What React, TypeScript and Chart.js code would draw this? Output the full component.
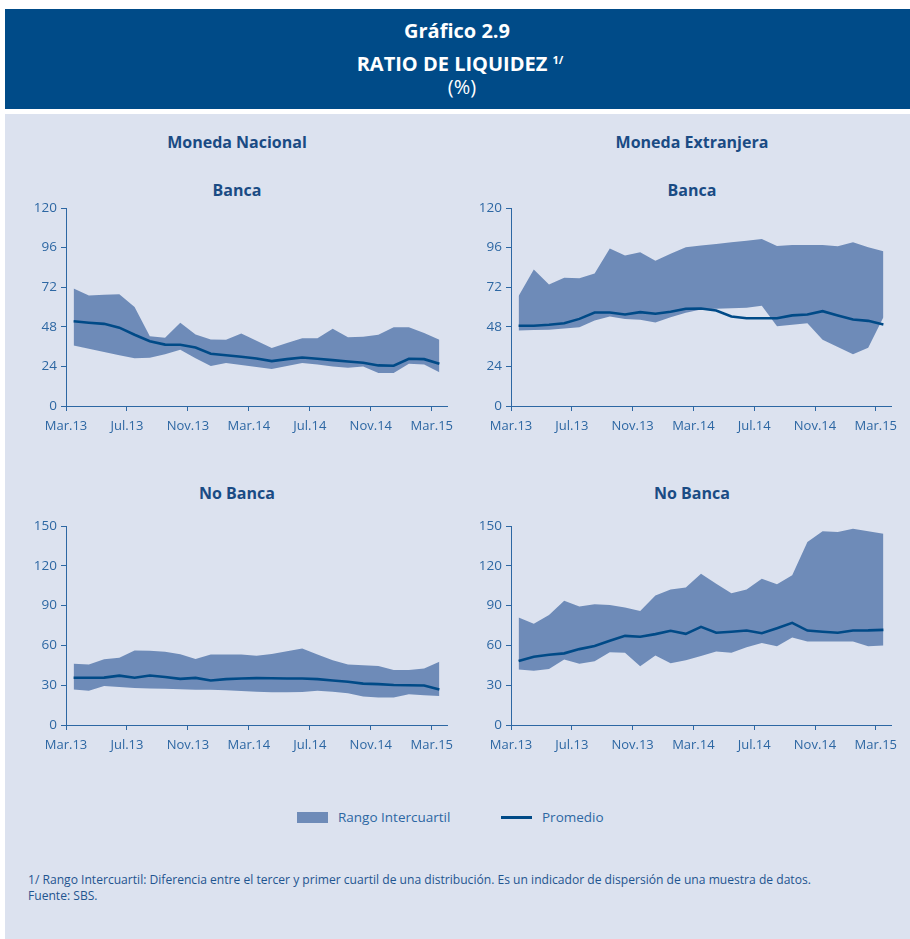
import React, { useEffect, useRef } from "react";
import { Chart, registerables } from "chart.js";
Chart.register(...registerables);

// ---------- DATA (monthly, Mar.13 .. Mar.15) ----------
const xTickLabels = ["Mar.13", "Jul.13", "Nov.13", "Mar.14", "Jul.14", "Nov.14", "Mar.15"];

// Moneda Nacional - Banca
const mnBancaQ3 = [71.2, 67, 67.4, 67.8, 60, 42.3, 41.3, 50.4, 43.4, 40.3, 40.1, 44, 39.5, 35.1, 38.2, 41.1, 41.1, 46.8, 41.7, 41.9, 43.2, 47.8, 47.8, 44.2, 40.1];
const mnBancaQ1 = [36.7, 34.7, 32.7, 30.8, 29, 29.2, 31.3, 34.1, 29, 24.2, 26, 24.8, 23.6, 22.4, 24.2, 26, 25.2, 24, 23.2, 24, 20, 20, 25.6, 25.2, 20.4];
const mnBancaAvg = [51.4, 50.5, 49.8, 47.5, 43.2, 39.3, 37.2, 37.1, 35.5, 31.7, 30.8, 29.8, 28.8, 27.2, 28.4, 29.4, 28.6, 27.8, 27, 26.2, 24.6, 24.4, 28.6, 28.4, 25.6];

// Moneda Extranjera - Banca
const meBancaQ3 = [66.6, 82.7, 73.6, 77.8, 77.4, 80.3, 95.4, 91.2, 93.2, 88.1, 92.2, 96.2, 97.2, 98.2, 99.2, 100.2, 101.2, 97, 97.6, 97.6, 97.6, 96.8, 99.2, 96.2, 93.8];
const meBancaQ1 = [45.8, 46, 46.2, 47, 47.8, 51.8, 54.2, 52.8, 52.2, 50.6, 53.8, 56.5, 58.5, 59, 59.3, 59.6, 60.7, 48.4, 49.2, 50.2, 40.1, 35.7, 31.3, 35.3, 53.8];
const meBancaAvg = [48.6, 48.6, 49.2, 50.2, 52.8, 56.7, 56.7, 55.5, 56.9, 55.9, 57.1, 58.9, 59.1, 57.9, 54.2, 53.2, 53.2, 53.2, 54.9, 55.5, 57.5, 54.9, 52.4, 51.6, 49.4];

// Moneda Nacional - No Banca
const mnNoBancaQ3 = [46.1, 45.6, 49.5, 50.7, 56.2, 55.9, 55.2, 53.4, 49.7, 53.2, 53.2, 53.2, 52.2, 53.5, 55.5, 57.7, 53.2, 48.9, 45.6, 45, 44.4, 41.4, 41.5, 42.5, 47.7];
const mnNoBancaQ1 = [26.8, 25.8, 29.4, 28.6, 27.8, 27.6, 27.3, 26.9, 26.6, 26.5, 26.2, 25.6, 25, 24.6, 24.7, 24.8, 25.8, 25, 24, 21.5, 20.8, 20.8, 23.2, 22.5, 21.8];
const mnNoBancaAvg = [35.6, 35.6, 35.7, 37.2, 35.6, 37.3, 36.2, 34.8, 35.5, 33.6, 34.6, 35, 35.3, 35.2, 35.1, 35.1, 34.6, 33.6, 32.6, 31.2, 30.8, 30.2, 30, 29.8, 26.8];

// Moneda Extranjera - No Banca
const meNoBancaQ3 = [81, 76.3, 83, 93.6, 89.4, 91, 90.5, 88.5, 86, 97.7, 102.2, 103.7, 114, 106.5, 99.4, 102.2, 110.2, 106, 112.8, 137.9, 146, 145.5, 148, 146, 144.2];
const meNoBancaQ1 = [41.8, 40.8, 42.3, 49.3, 46.1, 48.1, 54.9, 54.4, 44.3, 52.4, 46.6, 48.8, 52, 55.4, 54.4, 58.6, 61.9, 59.4, 65.9, 62.9, 62.9, 62.9, 62.9, 59.4, 59.9];
const meNoBancaAvg = [48.3, 51.5, 53, 54, 57.2, 59.5, 63.5, 67.2, 66.5, 68.5, 71, 68.7, 74, 69.5, 70.3, 71.2, 69.2, 73, 77, 71.2, 70.3, 69.5, 71.2, 71.3, 71.7];

// ---------- STYLE ----------
const FONT = "'Open Sans', 'Noto Sans', sans-serif";
const FILL = "#6e8bb8";
const LINE = "#004a87";
const AXIS = "#2d67a3";
const TICK_TXT = "#2d67a3";
const TITLE_TXT = "#1a4b84";
const BG = "#dce2ef";
const HEAD = "#004b88";

type PanelProps = {
  left: number; top: number; width: number; height: number;
  yMax: number; yStep: number;
  q1: number[]; q3: number[]; avg: number[];
};

function Panel({ left, top, width, height, yMax, yStep, q1, q3, avg }: PanelProps) {
  const ref = useRef<HTMLCanvasElement>(null);
  useEffect(() => {
    const toPts = (a: number[]) => a.map((y, i) => ({ x: i, y }));
    const tickPos = xTickLabels.map((_, k) => k * 4 - 0.5);
    const gridOpts = { drawOnChartArea: false, drawTicks: true, tickLength: 5, color: AXIS, lineWidth: 1 };
    const chart = new Chart(ref.current as HTMLCanvasElement, {
      type: "line",
      data: {
        datasets: [
          { label: "Promedio", data: toPts(avg), borderColor: LINE, borderWidth: 2.6, pointRadius: 0, fill: false, tension: 0 },
          { label: "Q1", data: toPts(q1), borderColor: "rgba(0,0,0,0)", borderWidth: 0, pointRadius: 0, fill: false, tension: 0 },
          { label: "Rango Intercuartil", data: toPts(q3), borderColor: "rgba(0,0,0,0)", borderWidth: 0, pointRadius: 0, fill: "-1", backgroundColor: FILL, tension: 0 },
        ],
      },
      options: {
        responsive: false,
        animation: false,
        devicePixelRatio: 1,
        layout: { padding: { top: 10, right: 10, left: 0, bottom: 0 } },
        plugins: { legend: { display: false }, tooltip: { enabled: false } },
        scales: {
          x: {
            type: "linear",
            min: -0.5,
            max: 24.5,
            afterBuildTicks: (s: any) => { s.ticks = tickPos.map((v) => ({ value: v })); },
            afterFit: (s: any) => { s.height = 42; s.paddingLeft = 0; s.paddingRight = 0; },
            ticks: {
              autoSkip: false, maxRotation: 0, padding: 7, color: TICK_TXT,
              font: { family: FONT, size: 13 },
              callback: (_v: any, i: number) => xTickLabels[i],
            },
            grid: gridOpts,
            border: { color: AXIS, width: 1 },
          },
          y: {
            min: 0,
            max: yMax,
            afterFit: (s: any) => { s.width = 50; s.paddingTop = 0; s.paddingBottom = 0; },
            ticks: { stepSize: yStep, padding: 4, color: TICK_TXT, font: { family: FONT, size: 13.5 } },
            grid: gridOpts,
            border: { color: AXIS, width: 1 },
          },
        },
      } as any,
    });
    return () => chart.destroy();
  }, []);
  return (
    <canvas ref={ref} width={width} height={height}
      style={{ position: "absolute", left, top, width, height }} />
  );
}

function Txt({ x, y, size, bold, color, children, align }: any) {
  const style: any = {
    position: "absolute", top: y - 12, height: 24, lineHeight: "24px",
    fontFamily: FONT, fontSize: size, fontWeight: bold ? 700 : 400, color, whiteSpace: "nowrap",
  };
  if (align === "center") { style.left = x - 300; style.width = 600; style.textAlign = "center"; }
  else { style.left = x; }
  return <div style={style}>{children}</div>;
}

export default function App() {
  return (
    <div style={{ position: "absolute", left: 0, top: 0, width: 910, height: 939, background: "#ffffff", overflow: "hidden" }}>
      <div style={{ position: "absolute", left: 5, top: 9, width: 905, height: 100, background: HEAD }} />
      <div style={{ position: "absolute", left: 5, top: 114, width: 905, height: 825, background: BG }} />

      <Txt x={457} y={31} size={20} bold color="#ffffff" align="center">Gráfico 2.9</Txt>
      <Txt x={460} y={60} size={20} bold color="#ffffff" align="center">
        RATIO DE LIQUIDEZ <span style={{ fontSize: 11, verticalAlign: "7px" }}>1/</span>
      </Txt>
      <Txt x={462} y={87} size={20} color="#ffffff" align="center">(%)</Txt>

      <Txt x={237} y={142} size={16} bold color={TITLE_TXT} align="center">Moneda Nacional</Txt>
      <Txt x={692} y={142} size={16} bold color={TITLE_TXT} align="center">Moneda Extranjera</Txt>
      <Txt x={237} y={190} size={16} bold color={TITLE_TXT} align="center">Banca</Txt>
      <Txt x={692} y={190} size={16} bold color={TITLE_TXT} align="center">Banca</Txt>
      <Txt x={237} y={493} size={16} bold color={TITLE_TXT} align="center">No Banca</Txt>
      <Txt x={692} y={493} size={16} bold color={TITLE_TXT} align="center">No Banca</Txt>

      <Panel left={16} top={198} width={441} height={250} yMax={120} yStep={24} q1={mnBancaQ1} q3={mnBancaQ3} avg={mnBancaAvg} />
      <Panel left={461} top={198} width={440} height={250} yMax={120} yStep={24} q1={meBancaQ1} q3={meBancaQ3} avg={meBancaAvg} />
      <Panel left={16} top={516} width={441} height={251} yMax={150} yStep={30} q1={mnNoBancaQ1} q3={mnNoBancaQ3} avg={mnNoBancaAvg} />
      <Panel left={461} top={516} width={440} height={251} yMax={150} yStep={30} q1={meNoBancaQ1} q3={meNoBancaQ3} avg={meNoBancaAvg} />

      <div style={{ position: "absolute", left: 297, top: 812, width: 31, height: 11, background: FILL }} />
      <Txt x={338} y={817} size={13.5} color={TICK_TXT}>Rango Intercuartil</Txt>
      <div style={{ position: "absolute", left: 501, top: 815.5, width: 31, height: 3, background: LINE }} />
      <Txt x={542} y={817} size={13.5} color={TICK_TXT}>Promedio</Txt>

      <Txt x={28} y={880} size={12.1} color="#1f5590">1/ Rango Intercuartil: Diferencia entre el tercer y primer cuartil de una distribución. Es un indicador de dispersión de una muestra de datos.</Txt>
      <Txt x={28} y={896} size={12.1} color="#1f5590">Fuente: SBS.</Txt>
    </div>
  );
}
